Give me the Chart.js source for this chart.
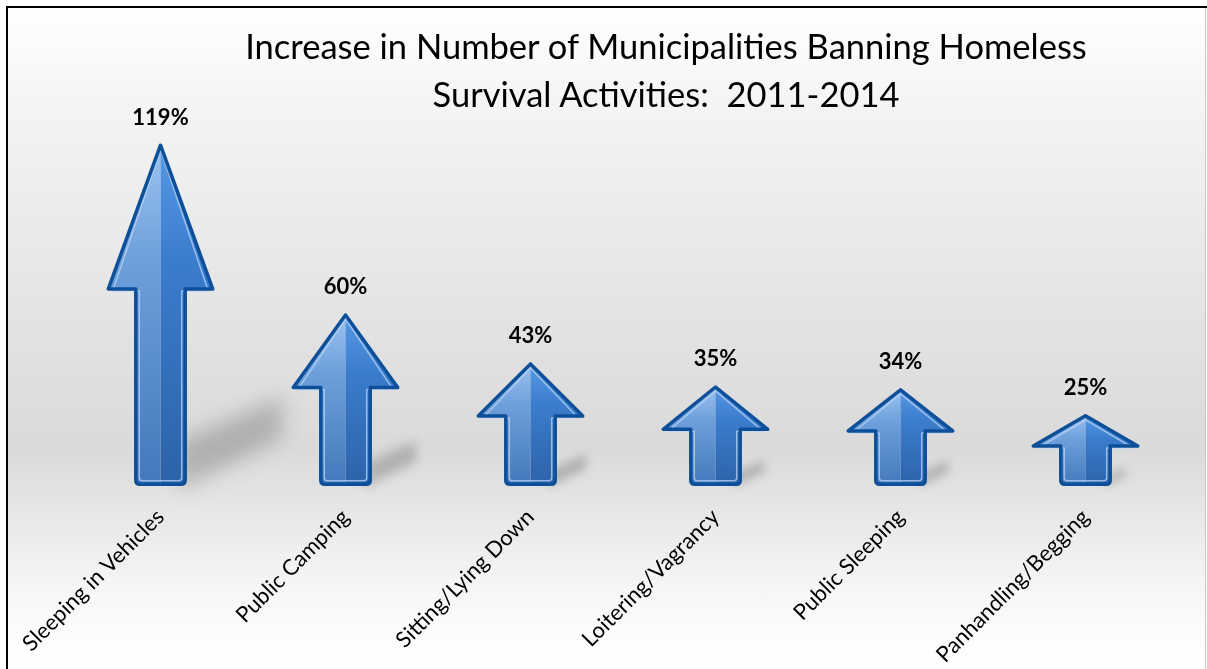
<!DOCTYPE html>
<html><head><meta charset="utf-8">
<script src="https://cdn.jsdelivr.net/npm/chart.js@4"></script>
<style>
html,body{margin:0;padding:0;background:#fff;}
#wrap{position:relative;width:1207px;height:669px;overflow:hidden;}
#bg{position:absolute;left:8px;top:8px;right:1px;bottom:0;
 background:linear-gradient(to bottom,#ffffff 0px,#f3f3f3 110px,#e4e4e4 300px,#dadada 440px,#e6e6e6 500px,#f6f6f6 580px,#ffffff 650px);}
#frameT{position:absolute;left:7px;top:6px;width:1200px;height:2px;background:#000;}
#frameL{position:absolute;left:6px;top:6px;width:2px;height:669px;background:#000;}
#frameR{position:absolute;left:1205px;top:8px;width:1px;height:669px;background:#c8c8c8;}
#title{position:absolute;left:166px;width:1000px;top:22px;text-align:center;font-family:Lato,"Open Sans",sans-serif;font-size:34.5px;line-height:48px;color:#000;white-space:nowrap;}
canvas{position:absolute;left:0;top:0;}
</style></head>
<body><div id="wrap"><div id="bg"></div><div id="frameT"></div><div id="frameL"></div><div id="frameR"></div>
<canvas id="c" width="1207" height="669"></canvas>
<div id="title">Increase in Number of Municipalities Banning Homeless<br>Survival Activities:&nbsp; 2011-2014</div>
</div>
<script>
const categories = ["Sleeping in Vehicles","Public Camping","Sitting/Lying Down","Loitering/Vagrancy","Public Sleeping","Panhandling/Begging"];
const increasePct = [119, 60, 43, 35, 34, 25];
const valueLabels = ["119%","60%","43%","35%","34%","25%"];

function arrowPath(ctx, cx, top, base, headW, shaftW, headH, r){
  const hw=headW/2, sw=shaftW/2, hb=top+headH;
  ctx.beginPath();
  ctx.moveTo(cx, top);
  ctx.lineTo(cx+hw, hb);
  ctx.lineTo(cx+sw, hb);
  ctx.lineTo(cx+sw, base-r);
  ctx.quadraticCurveTo(cx+sw, base, cx+sw-r, base);
  ctx.lineTo(cx-sw+r, base);
  ctx.quadraticCurveTo(cx-sw, base, cx-sw, base-r);
  ctx.lineTo(cx-sw, hb);
  ctx.lineTo(cx-hw, hb);
  ctx.closePath();
}

const arrowPlugin = {
  id:'arrows',
  afterDatasetsDraw(chart){
    const ctx=chart.ctx;
    const meta=chart.getDatasetMeta(0);
    meta.data.forEach(el=>{
      const cx=el.x, top=el.y, base=el.base, H=base-top;
      const sw=el.width*0.49/2;
      const sx=cx+sw-8;
      ctx.save();
      ctx.filter='blur('+Math.max(5,H*0.03)+'px)';
      ctx.fillStyle='rgba(100,100,100,0.36)';
      ctx.beginPath();
      ctx.moveTo(sx, base-0.13*H);
      ctx.lineTo(sx+0.30*H, base-0.26*H);
      ctx.lineTo(sx+0.30*H, base-0.14*H);
      ctx.lineTo(sx, base+0.01*H);
      ctx.closePath();
      ctx.fill();
      ctx.restore();
    });
    meta.data.forEach((el,i)=>{
      const cx=el.x, top=el.y, base=el.base, H=base-top;
      const lw=3.5, ins=lw/2;
      const headW=el.width-lw, shaftW=el.width*0.49-lw;
      const headH=H*0.42;
      ctx.save();
      ctx.lineJoin='round';
      arrowPath(ctx,cx,top+ins,base-ins,headW,shaftW,headH,4);
      ctx.save();
      ctx.clip();
      const gL=ctx.createLinearGradient(0,top,0,base);
      gL.addColorStop(0,'#9cc3f0');gL.addColorStop(0.35,'#6d9fdb');gL.addColorStop(1,'#4478bb');
      ctx.fillStyle=gL;ctx.fillRect(cx-el.width/2-2,top,el.width/2+2,H);
      const gR=ctx.createLinearGradient(0,top,0,base);
      gR.addColorStop(0,'#5a9ae6');gR.addColorStop(0.35,'#3a7ccc');gR.addColorStop(1,'#2c63a8');
      ctx.fillStyle=gR;ctx.fillRect(cx,top,el.width/2+2,H);
      ctx.restore();
      arrowPath(ctx,cx,top+ins+4,base-ins-3.5,headW-9,shaftW-7,headH-2,3);
      ctx.strokeStyle='rgba(185,212,245,0.75)';
      ctx.lineWidth=1.5;ctx.stroke();
      arrowPath(ctx,cx,top+ins,base-ins,headW,shaftW,headH,4);
      ctx.strokeStyle='#0d4f98';ctx.lineWidth=lw;ctx.stroke();
      ctx.restore();
      ctx.save();
      ctx.font='bold 22px Lato, "Open Sans", sans-serif';
      ctx.fillStyle='#000';ctx.textAlign='center';ctx.textBaseline='middle';
      ctx.fillText(valueLabels[i],cx,top-26);
      ctx.restore();
    });
  }
};

new Chart(document.getElementById('c'),{
  type:'bar',
  data:{labels:categories,datasets:[{data:increasePct,backgroundColor:'rgba(0,0,0,0)',borderWidth:0,barThickness:108}]},
  options:{
    responsive:false,animation:false,
    layout:{padding:{left:68,right:29,top:83,bottom:0}},
    plugins:{legend:{display:false},tooltip:{enabled:false},title:{display:false}},
    scales:{
      y:{display:false,min:0,max:140},
      x:{grid:{display:false,drawTicks:false},border:{display:false},
         ticks:{minRotation:45,maxRotation:45,color:'#000',padding:18,font:{family:'Lato',size:22}},
         afterFit(s){s.height=183;}}
    }
  },
  plugins:[arrowPlugin]
});
</script>
</body></html>
